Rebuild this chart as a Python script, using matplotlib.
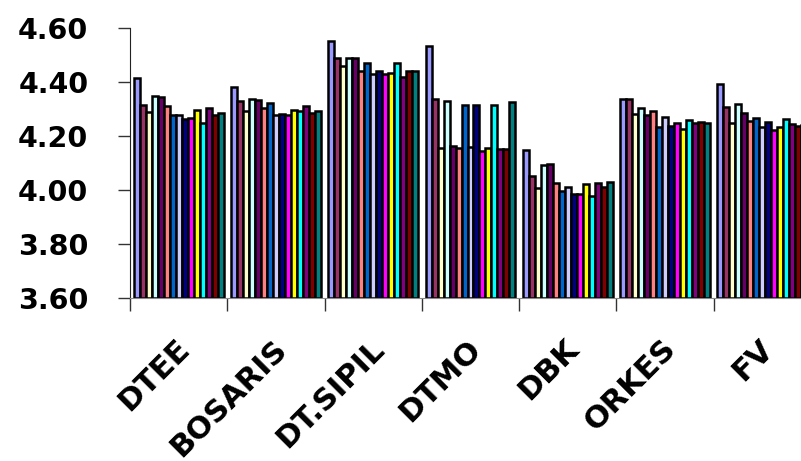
import matplotlib
matplotlib.use("Agg")
import matplotlib.pyplot as plt
import matplotlib.transforms as mtransforms
import numpy as np

categories = ["DTEE", "BOSARIS", "DT.SIPIL", "DTMO", "DBK", "ORKES", "FV"]

# one list per series (15 series, one bar per category each)
s01 = [4.414, 4.381, 4.551, 4.532, 4.147, 4.336, 4.394]
s02 = [4.315, 4.328, 4.490, 4.336, 4.053, 4.336, 4.309]
s03 = [4.290, 4.293, 4.459, 4.154, 4.006, 4.280, 4.247]
s04 = [4.349, 4.337, 4.488, 4.331, 4.091, 4.303, 4.317]
s05 = [4.344, 4.333, 4.489, 4.162, 4.095, 4.277, 4.284]
s06 = [4.311, 4.305, 4.441, 4.157, 4.025, 4.294, 4.256]
s07 = [4.278, 4.321, 4.470, 4.316, 3.995, 4.233, 4.268]
s08 = [4.278, 4.277, 4.430, 4.160, 4.010, 4.270, 4.234]
s09 = [4.262, 4.280, 4.441, 4.316, 3.984, 4.236, 4.253]
s10 = [4.266, 4.279, 4.430, 4.143, 3.984, 4.247, 4.222]
s11 = [4.295, 4.298, 4.432, 4.157, 4.021, 4.227, 4.234]
s12 = [4.249, 4.293, 4.469, 4.316, 3.978, 4.259, 4.262]
s13 = [4.305, 4.311, 4.420, 4.153, 4.026, 4.249, 4.243]
s14 = [4.279, 4.286, 4.439, 4.153, 4.012, 4.253, 4.238]
s15 = [4.284, 4.293, 4.439, 4.326, 4.031, 4.249, 4.240]
series = [s01, s02, s03, s04, s05, s06, s07, s08, s09, s10, s11, s12, s13, s14, s15]

colors = ["#9999FF", "#993366", "#FFFFCC", "#CCFFFF", "#660066", "#FF8080",
          "#0066CC", "#CCCCFF", "#000080", "#FF00FF", "#FFFF00", "#00FFFF",
          "#800080", "#800000", "#008080"]

yticks = [3.60, 3.80, 4.00, 4.20, 4.40, 4.60]

fig = plt.figure(figsize=(8.01, 4.61), dpi=100)
# axes run past the right edge of the picture, as in the original
ax = fig.add_axes([130 / 801, 1 - 298 / 461, 681 / 801, 270 / 461])

n = len(series)
w = 0.925 / n
x = np.arange(len(categories))
for i, (vals, c) in enumerate(zip(series, colors)):
    off = (i - (n - 1) / 2) * w
    ax.bar(x + off, np.array(vals) - 3.6, width=w, bottom=3.6, color=c,
           edgecolor="black", linewidth=1.8)

ax.set_xlim(-0.5, len(categories) - 0.5)
ax.set_ylim(3.6, 4.6)

for s in ["top", "right"]:
    ax.spines[s].set_visible(False)
ax.spines["left"].set_color("#222222")
ax.spines["bottom"].set_color("#888888")

ax.set_yticks(yticks)
ax.set_yticklabels([f"{v:.2f}" for v in yticks], fontsize=20.5, fontweight="bold",
                   family="DejaVu Sans")
ax.tick_params(axis="y", length=9, width=1, color="#333333", pad=21)

ax.set_xticks(np.arange(len(categories) + 1) - 0.5)
ax.set_xticklabels([])
ax.tick_params(axis="x", which="major", length=9, width=1, color="#333333")
ax.set_xticks(x, minor=True)
ax.set_xticklabels(categories, minor=True, rotation=45, ha="right",
                   rotation_mode="anchor", fontsize=22, fontweight="bold",
                   family="DejaVu Sans")
ax.tick_params(axis="x", which="minor", length=0, pad=26)
shift = mtransforms.ScaledTranslation(-4 / 100, 0, fig.dpi_scale_trans)
for lab in ax.get_xticklabels(minor=True):
    lab.set_transform(lab.get_transform() + shift)

fig.savefig("out.png", dpi=100)
